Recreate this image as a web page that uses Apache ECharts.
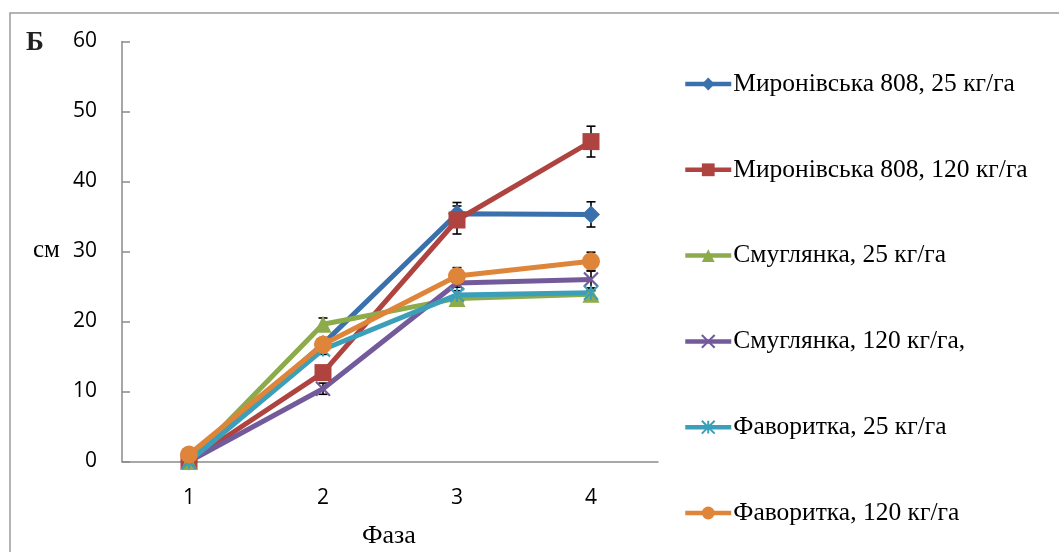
<!DOCTYPE html>
<html>
<head>
<meta charset="utf-8">
<script src="https://cdn.jsdelivr.net/npm/echarts@6/dist/echarts.min.js"></script>
<style>html,body{margin:0;padding:0;background:#fff;}#c{width:1059px;height:552px;}</style>
</head>
<body>
<div id="c"></div>
<script>
const phases = ['1', '2', '3', '4'];
const seriesNames = ['Миронівська 808, 25 кг/га', 'Миронівська 808, 120 кг/га', 'Смуглянка, 25 кг/га', 'Смуглянка, 120 кг/га,', 'Фаворитка, 25 кг/га', 'Фаворитка, 120 кг/га'];
const mironivska25 = [0, 16.8, 35.4, 35.3];
const mironivska120 = [0, 12.7, 34.5, 45.7];
const smuglyanka25 = [0, 19.6, 23.3, 23.9];
const smuglyanka120 = [0, 10.4, 25.5, 26.0];
const favorytka25 = [0, 16.0, 23.8, 24.1];
const favorytka120 = [1.0, 16.7, 26.5, 28.6];
const err_mironivska25 = [0, 0.8, 1.6, 1.8];
const err_mironivska120 = [0, 0.6, 2.0, 2.2];
const err_smuglyanka25 = [0, 0.9, 0.5, 0.5];
const err_smuglyanka120 = [0, 0.8, 0.6, 1.2];
const err_favorytka25 = [0, 0.7, 0.6, 0.6];
const err_favorytka120 = [0, 0.7, 1.2, 1.3];
const yTicks = [0, 10, 20, 30, 40, 50, 60];

const values = [mironivska25, mironivska120, smuglyanka25, smuglyanka120, favorytka25, favorytka120];
const errors = [err_mironivska25, err_mironivska120, err_smuglyanka25, err_smuglyanka120, err_favorytka25, err_favorytka120];
const colors = ['#3A70AC', '#AE4340', '#8CAB4B', '#735A9A', '#3C9FB9', '#DE853A'];
const symbols = ['diamond', 'rect', 'triangle', 'path://M0,0L10,10M10,0L0,10', 'path://M5,0L5,10M0,0L10,10M10,0L0,10', 'circle'];
const symbolSizes = [18, 17, 17, 14, 14, 18];

const chart = echarts.init(document.getElementById('c'));

const series = [];
values.forEach((vals, i) => {
  const errData = vals.map((v, j) => [j, v, errors[i][j]]).filter(d => d[2] > 0);
  series.push({
    type: 'custom',
    name: seriesNames[i] + ' err',
    z: 1,
    silent: true,
    data: errData,
    renderItem: function (params, api) {
      const x = api.value(0), v = api.value(1), e = api.value(2);
      const top = api.coord([x, v + e]);
      const bot = api.coord([x, v - e]);
      const hw = 4.5;
      const st = { stroke: '#000', lineWidth: 1.6 };
      return {
        type: 'group',
        children: [
          { type: 'line', shape: { x1: top[0], y1: top[1], x2: bot[0], y2: bot[1] }, style: st },
          { type: 'line', shape: { x1: top[0] - hw, y1: top[1], x2: top[0] + hw, y2: top[1] }, style: st },
          { type: 'line', shape: { x1: bot[0] - hw, y1: bot[1], x2: bot[0] + hw, y2: bot[1] }, style: st }
        ]
      };
    }
  });
});
values.forEach((vals, i) => {
  const isPath = symbols[i].startsWith('path');
  series.push({
    type: 'line',
    name: seriesNames[i],
    z: 2,
    data: vals,
    symbol: symbols[i],
    symbolSize: symbolSizes[i],
    showAllSymbol: true,
    lineStyle: { color: colors[i], width: 5 },
    itemStyle: isPath ? { color: colors[i], borderColor: colors[i], borderWidth: 2.2 } : { color: colors[i] },
    emphasis: { disabled: true },
    animation: false
  });
});

chart.setOption({
  animation: false,
  color: colors,
  grid: { left: 122, right: 401, top: 41.5, bottom: 90.5, containLabel: false },
  legend: {
    data: seriesNames,
    orient: 'vertical',
    left: 683,
    top: 71,
    padding: 0,
    itemWidth: 46,
    itemHeight: 16,
    itemGap: 59.8,
    lineStyle: { width: 4.5 },
    textStyle: { fontFamily: 'Liberation Serif', fontSize: 25.5, color: '#000', lineHeight: 26, padding: [0, 0, 0, -3] }
  },
  xAxis: {
    type: 'category',
    data: phases,
    boundaryGap: true,
    axisLine: { lineStyle: { color: '#8a8a8a', width: 1.5 } },
    axisTick: { alignWithLabel: true, inside: true, length: 7, lineStyle: { color: '#8a8a8a', width: 1.5 } },
    axisLabel: { fontFamily: 'Open Sans', fontSize: 21, color: '#000', margin: 26 }
  },
  yAxis: {
    type: 'value',
    min: 0,
    max: 60,
    interval: 10,
    axisLine: { show: true, lineStyle: { color: '#8a8a8a', width: 1.5 } },
    axisTick: { show: true, inside: true, length: 8, lineStyle: { color: '#8a8a8a', width: 1.5 } },
    splitLine: { show: false },
    axisLabel: { fontFamily: 'Open Sans', fontSize: 21, color: '#000', margin: 25,
      formatter: v => yTicks.includes(v) ? String(v) : '' }
  },
  graphic: [
    { type: 'rect', shape: { x: 10, y: 13, width: 1200, height: 700 }, style: { fill: 'none', stroke: '#9a9a9a', lineWidth: 1.5 }, silent: true },
    { type: 'text', left: 26, top: 30, style: { text: 'Б', fontSize: 27, fontWeight: 'bold', fontFamily: 'Liberation Serif', fill: '#222' } },
    { type: 'text', left: 33, top: 238, style: { text: 'см', fontSize: 25, fontFamily: 'Liberation Serif', fill: '#000' } },
    { type: 'text', left: 362, top: 523, style: { text: 'Фаза', fontSize: 26, fontFamily: 'Liberation Serif', fill: '#000' } }
  ],
  series: series
});
</script>
</body>
</html>
